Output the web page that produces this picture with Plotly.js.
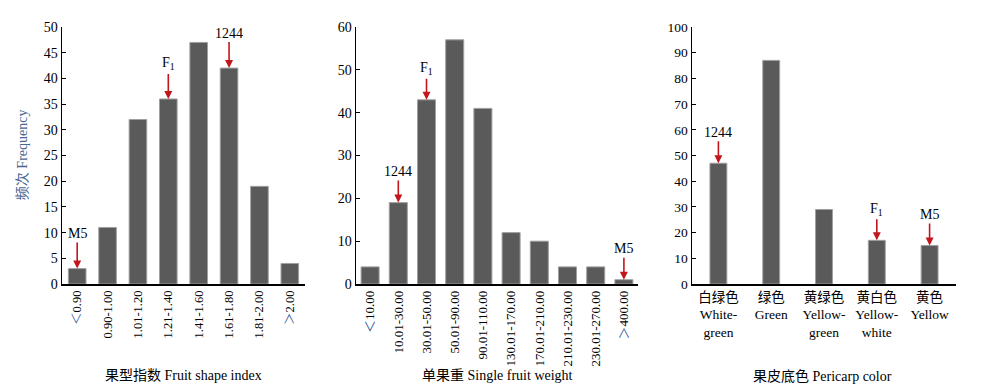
<!DOCTYPE html>
<html><head><meta charset="utf-8">
<script src="https://cdn.plot.ly/plotly-3.0.1.min.js"></script>
<style>html,body{margin:0;padding:0;background:#fff}#c{width:1000px;height:385px}</style>
</head><body><div id="c"></div>
<script>
// Panel 1: fruit shape index
const shapeCats = ["<0.90","0.90-1.00","1.01-1.20","1.21-1.40","1.41-1.60","1.61-1.80","1.81-2.00",">2.00"];
const shapeLabels = ['<span style="color:#3d5f9e">＜</span>0.90',"0.90-1.00","1.01-1.20","1.21-1.40","1.41-1.60","1.61-1.80","1.81-2.00",'<span style="color:#3d5f9e">＞</span>2.00'];
const shapeFreq = [3,11,32,36,47,42,19,4];
// Panel 2: single fruit weight
const weightCats = ["<10.00","10.01-30.00","30.01-50.00","50.01-90.00","90.01-110.00","130.01-170.00","170.01-210.00","210.01-230.00","230.01-270.00",">400.00"];
const weightLabels = ['<span style="color:#3d5f9e">＜</span>10.00',"10.01-30.00","30.01-50.00","50.01-90.00","90.01-110.00","130.01-170.00","170.01-210.00","210.01-230.00","230.01-270.00",'<span style="color:#3d5f9e">＞</span>400.00'];
const weightFreq = [4,19,43,57,41,12,10,4,4,1];
// Panel 3: pericarp color
const colorCats = ["白绿色 White-green","绿色 Green","黄绿色 Yellow-green","黄白色 Yellow-white","黄色 Yellow"];
const colorLabels = ["白绿色<br>White-<br>green","绿色<br>Green","黄绿色<br>Yellow-<br>green","黄白色<br>Yellow-<br>white","黄色<br>Yellow"];
const colorFreq = [47,87,29,17,15];
// Marked parents
const marks1 = [["M5",0],["F<sub>1</sub>",3],["1244",5]];
const marks2 = [["1244",1],["F<sub>1</sub>",2],["M5",9]];
const marks3 = [["1244",0],["F<sub>1</sub>",3],["M5",4]];

const FONT = "Liberation Serif, Times New Roman, Noto Sans CJK SC, serif";
const barFill = "#5a5a5a", barLine = "#a0a0a0";

function bar(cats, vals, xa, ya, w){
  return {type:"bar", x:cats, y:vals, xaxis:xa, yaxis:ya, width:w,
    marker:{color:barFill, line:{color:barLine, width:1}}, hoverinfo:"x+y"};
}
const traces = [
  bar(shapeCats, shapeFreq, "x", "y", 0.58),
  bar(weightCats, weightFreq, "x2", "y2", 0.64),
  bar(colorCats, colorFreq, "x3", "y3", 0.32)
];

const ydom = [0.2623, 0.9299];
function xax(dom, cats, labels, angle, size){
  return {domain:dom, type:"category",
    tickmode:"array", tickvals:cats, ticktext:labels, tickangle:angle,
    showline:true, linecolor:"#000", linewidth:1.5, ticks:"", showgrid:false, zeroline:false,
    tickfont:{family:FONT, size:size, color:"#000"}, fixedrange:true};
}
function yax(max, dt, size){
  return {domain:ydom, range:[0,max], dtick:dt, showline:true, linecolor:"#000", linewidth:1.5,
    ticks:"inside", ticklen:4, tickcolor:"#000", showgrid:false, zeroline:false,
    tickfont:{family:FONT, size:size, color:"#000"}};
}
const layout = {
  width:1000, height:385, margin:{l:0,r:0,t:0,b:0}, showlegend:false,
  paper_bgcolor:"#fff", plot_bgcolor:"#fff", bargap:0.4,
  font:{family:FONT, color:"#000"},
  xaxis: Object.assign(xax([0.062,0.305], shapeCats, shapeLabels, -90, 12.5), {anchor:"y"}),
  yaxis: Object.assign(yax(50,5,14), {anchor:"x"}),
  xaxis2: Object.assign(xax([0.356,0.638], weightCats, weightLabels, -90, 13), {anchor:"y2"}),
  yaxis2: Object.assign(yax(60,10,14), {anchor:"x2"}),
  xaxis3: Object.assign(xax([0.692,0.956], colorCats, colorLabels, 0, 13.5), {anchor:"y3"}),
  yaxis3: Object.assign(yax(100,10,13.5), {anchor:"x3"}),
  annotations: []
};
function addMarks(marks, cats, vals, xr, yr, ay){
  marks.forEach(([t,i])=>{
    layout.annotations.push({xref:xr, yref:yr, x:cats[i], y:vals[i], text:t,
      showarrow:true, arrowhead:2, arrowsize:1, arrowwidth:1.6, arrowcolor:"#c3161c",
      ax:0, ay:ay, standoff:0, font:{family:FONT, size:14, color:"#000"}});
  });
}
addMarks(marks1, shapeCats, shapeFreq, "x", "y", -35);
addMarks(marks2, weightCats, weightFreq, "x2", "y2", -31);
addMarks(marks3, colorCats, colorFreq, "x3", "y3", -31);

const titles = [["果型指数 Fruit shape index",0.183],["单果重 Single fruit weight",0.497],["果皮底色 Pericarp color",0.822]];
titles.forEach(([t,x])=>layout.annotations.push({xref:"paper",yref:"paper",x:x,y:0.024,text:t,showarrow:false,
  xanchor:"center",yanchor:"middle",font:{family:FONT,size:14,color:"#000"}}));
layout.annotations.push({xref:"paper",yref:"paper",x:0.022,y:0.597,text:"频次 Frequency",textangle:-90,showarrow:false,
  xanchor:"center",yanchor:"middle",font:{family:FONT,size:14,color:"#4a6794"}});

Plotly.newPlot("c", traces, layout, {staticPlot:true, displayModeBar:false});
</script></body></html>
